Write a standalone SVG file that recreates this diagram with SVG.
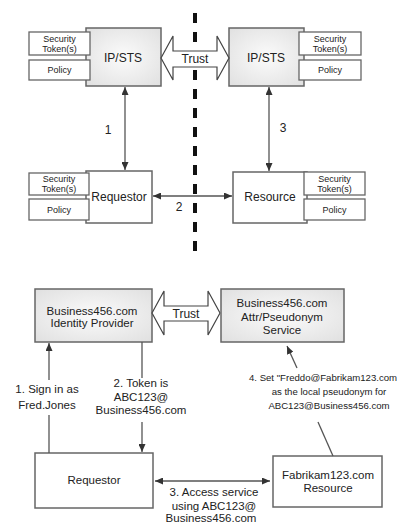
<svg xmlns="http://www.w3.org/2000/svg" width="400" height="523" viewBox="0 0 400 523">
  <defs>
    <radialGradient id="shade" cx="50%" cy="50%" r="70%">
      <stop offset="0" stop-color="#fbfbfb"/>
      <stop offset="1" stop-color="#e0e0e0"/>
    </radialGradient>
    <marker id="ah" viewBox="0 0 8 7" refX="8" refY="3.5" markerWidth="8" markerHeight="7" markerUnits="userSpaceOnUse" orient="auto-start-reverse">
      <path d="M0,0 L8,3.5 L0,7 z" fill="#333"/>
    </marker>
    <style>
      .box { stroke: #666; stroke-width: 1.5; }
      .grey { fill: url(#shade); }
      .white { fill: #fff; }
      .small { fill: #fff; stroke: #666; stroke-width: 1.3; }
      .t { font-family: "Liberation Sans", Arial, sans-serif; font-size: 11.5px; fill: #222; text-anchor: middle; }
      .note { font-family: "Liberation Sans", Arial, sans-serif; font-size: 9.6px; fill: #222; text-anchor: middle; }
      .s { font-family: "Liberation Sans", Arial, sans-serif; font-size: 9px; fill: #222; text-anchor: middle; }
      .n { font-family: "Liberation Sans", Arial, sans-serif; font-size: 12px; fill: #222; text-anchor: middle; }
      .c { fill: none; stroke: #555; stroke-width: 1.3; }
      .trust { fill: #fff; stroke: #444; stroke-width: 1.2; }
      .divider { stroke: #111; stroke-width: 4; stroke-dasharray: 10 9; }
    </style>
  </defs>
  <rect width="400" height="523" fill="#fff"/>

  <!-- trust boundary -->
  <line class="divider" x1="195" y1="13" x2="195" y2="256"/>

  <!-- upper scenario -->
  <g id="ipsts-left">
    <rect class="box grey" x="86" y="28" width="75" height="58"/>
    <text class="n" x="123" y="62">IP/STS</text>
    <rect class="small" x="29" y="32" width="61" height="23"/>
    <text class="s" x="59.5" y="42">Security</text>
    <text class="s" x="59.5" y="52">Token(s)</text>
    <rect class="small" x="29" y="60" width="61" height="20"/>
    <text class="s" x="59.5" y="73">Policy</text>
  </g>

  <g id="ipsts-right">
    <rect class="box grey" x="229" y="28" width="75" height="58"/>
    <text class="n" x="266" y="62">IP/STS</text>
    <rect class="small" x="299" y="32" width="62" height="23"/>
    <text class="s" x="330" y="42">Security</text>
    <text class="s" x="330" y="52">Token(s)</text>
    <rect class="small" x="299" y="60" width="62" height="20"/>
    <text class="s" x="330" y="73">Policy</text>
  </g>

  <g id="trust-top">
    <polygon class="trust" points="161,58 173,36 173,51 217,51 217,36 229,58 217,80 217,67 173,67 173,80"/>
    <text class="n" x="195" y="63">Trust</text>
  </g>

  <g id="requestor-top">
    <rect class="box white" x="86" y="171" width="66" height="52"/>
    <text class="n" x="119" y="201">Requestor</text>
    <rect class="small" x="29" y="173" width="60" height="22"/>
    <text class="s" x="59" y="182">Security</text>
    <text class="s" x="59" y="192">Token(s)</text>
    <rect class="small" x="29" y="199" width="60" height="21"/>
    <text class="s" x="59" y="213">Policy</text>
  </g>

  <g id="resource-top">
    <rect class="box white" x="233" y="172" width="74" height="51"/>
    <text class="n" x="270" y="201">Resource</text>
    <rect class="small" x="304" y="172" width="61" height="23"/>
    <text class="s" x="334.5" y="182">Security</text>
    <text class="s" x="334.5" y="192">Token(s)</text>
    <rect class="small" x="304" y="199" width="61" height="21"/>
    <text class="s" x="334.5" y="213">Policy</text>
  </g>

  <!-- lower scenario -->
  <g id="identity-provider">
    <rect class="box grey" x="35" y="289" width="117" height="53"/>
    <text class="t" x="92" y="315">Business456.com</text>
    <text class="t" x="92" y="327">Identity Provider</text>
  </g>

  <g id="trust-bottom">
    <polygon class="trust" points="152,313 164,291 164,306 208,306 208,291 220,313 208,335 208,321 164,321 164,335"/>
    <text class="n" x="186" y="318">Trust</text>
  </g>

  <g id="pseudonym-service">
    <rect class="box grey" x="221" y="289" width="123" height="53"/>
    <text class="t" x="282" y="307">Business456.com</text>
    <text class="t" x="282" y="321">Attr/Pseudonym</text>
    <text class="t" x="282" y="334">Service</text>
  </g>

  <g id="requestor-bottom">
    <rect class="box white" x="35" y="453" width="118" height="55"/>
    <text class="t" x="94" y="484">Requestor</text>
  </g>

  <g id="fabrikam-resource">
    <rect class="box white" x="273" y="456" width="109" height="51"/>
    <text class="t" x="328" y="479">Fabrikam123.com</text>
    <text class="t" x="328" y="492">Resource</text>
  </g>

  <!-- connectors -->
  <g id="connectors">
    <line class="c" x1="125" y1="87" x2="125" y2="170" marker-start="url(#ah)" marker-end="url(#ah)"/>
    <text class="n" x="108" y="134">1</text>
    <line class="c" x1="269" y1="87" x2="269" y2="171" marker-start="url(#ah)" marker-end="url(#ah)"/>
    <text class="n" x="283" y="132">3</text>
    <line class="c" x1="153" y1="196" x2="232" y2="196" marker-start="url(#ah)" marker-end="url(#ah)"/>
    <text class="n" x="179" y="211">2</text>

    <line class="c" x1="49" y1="453" x2="49" y2="415"/>
    <line class="c" x1="49" y1="380" x2="49" y2="343" marker-end="url(#ah)"/>
    <text class="t" x="47" y="393">1.  Sign in as</text>
    <text class="t" x="47" y="409">Fred.Jones</text>

    <line class="c" x1="142" y1="342" x2="142" y2="378"/>
    <line class="c" x1="142" y1="422" x2="142" y2="452" marker-end="url(#ah)"/>
    <text class="t" x="141" y="387">2.  Token is</text>
    <text class="t" x="141" y="401">ABC123@</text>
    <text class="t" x="141" y="414">Business456.com</text>

    <line class="c" x1="155" y1="481" x2="270" y2="481" marker-start="url(#ah)" marker-end="url(#ah)"/>
    <text class="t" x="214" y="496">3.  Access service</text>
    <text class="t" x="214" y="510">using ABC123@</text>
    <text class="t" x="211" y="522">Business456.com</text>

    <line class="c" x1="333" y1="456" x2="318" y2="422"/>
    <line class="c" x1="297" y1="368" x2="287" y2="346" marker-end="url(#ah)"/>
    <text class="note" x="323" y="381">4.  Set "Freddo@Fabrikam123.com</text>
    <text class="note" x="329" y="395">as the local pseudonym for</text>
    <text class="note" x="329" y="409">ABC123@Business456.com</text>
  </g>
</svg>
